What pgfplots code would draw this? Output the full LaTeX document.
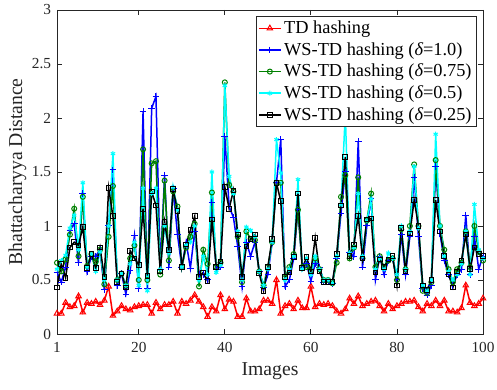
\documentclass[border=0pt]{standalone}
\usepackage{fontspec}
\setmainfont{Liberation Serif}
\usepackage{pgfplots}
\usepackage{pgfplotstable}
\pgfplotsset{compat=1.18}
\definecolor{mred}{rgb}{1,0,0}
\definecolor{mblue}{rgb}{0,0,1}
\definecolor{mgreen}{rgb}{0,0.5,0}
\definecolor{mcyan}{rgb}{0,1,1}
\definecolor{maxis}{rgb}{0.15,0.15,0.15}
\pgfplotstableread{
x td w10 w075 w05 w025
1 0.19 0.57 0.66 0.60 0.43
2 0.19 0.48 0.58 0.68 0.65
3 0.29 0.62 0.69 0.73 0.52
4 0.25 0.96 0.92 0.98 0.80
5 0.26 1.02 1.16 1.10 0.85
6 0.35 0.66 0.72 0.78 0.82
7 0.20 1.30 1.27 1.40 0.99
8 0.29 0.58 0.63 0.62 0.61
9 0.28 0.72 0.74 0.74 0.74
10 0.30 0.72 0.67 0.58 0.61
11 0.27 0.78 0.78 0.76 0.80
12 0.31 0.41 0.46 0.50 0.53
13 0.44 1.00 0.90 1.00 1.35
14 0.17 1.52 1.37 1.67 1.09
15 0.21 0.45 0.50 0.50 0.48
16 0.26 0.56 0.56 0.56 0.56
17 0.23 0.37 0.45 0.45 0.43
18 0.22 0.59 0.70 0.65 0.77
19 0.25 0.91 0.82 0.85 0.70
20 0.26 0.42 0.50 0.45 0.64
21 0.27 2.06 1.71 1.35 1.16
22 0.27 0.42 0.50 0.40 0.54
23 0.19 2.09 1.58 1.30 1.32
24 0.29 2.20 1.60 1.35 1.19
25 0.23 0.60 0.55 0.60 0.58
26 0.27 1.47 1.42 1.00 1.04
27 0.27 0.62 0.68 0.75 0.78
28 0.30 1.35 1.32 1.36 1.34
29 0.19 0.92 1.18 1.15 1.14
30 0.30 0.62 0.62 0.62 0.62
31 0.28 0.85 0.80 0.82 0.83
32 0.31 0.61 0.90 0.85 0.96
33 0.36 0.95 1.02 1.00 1.09
34 0.30 0.55 0.44 0.50 0.53
35 0.25 0.55 0.78 0.72 0.57
36 0.16 0.50 0.65 0.55 0.49
37 0.25 1.22 1.31 1.50 1.06
38 0.21 0.60 0.62 0.57 0.62
39 0.36 0.62 0.66 0.64 0.67
40 0.23 1.83 2.33 2.30 1.36
41 0.32 1.18 1.38 1.46 1.16
42 0.30 1.08 1.32 1.30 1.33
43 0.16 0.81 0.90 0.95 0.92
44 0.16 0.44 0.48 0.50 0.53
45 0.33 0.85 0.95 0.99 0.81
46 0.21 0.72 0.88 0.96 0.88
47 0.21 0.85 0.87 0.90 0.92
48 0.23 0.58 0.58 0.58 0.56
49 0.31 0.43 0.45 0.45 0.40
50 0.31 0.55 0.62 0.60 0.62
51 0.28 0.85 0.85 0.85 0.88
52 0.50 1.40 1.40 1.80 1.40
53 0.19 1.80 1.40 1.49 1.23
54 0.26 0.44 0.52 0.50 0.53
55 0.28 0.50 0.62 0.60 0.57
56 0.23 0.70 0.74 0.72 0.71
57 0.31 1.15 1.15 1.43 1.30
58 0.24 0.62 0.62 0.60 0.61
59 0.24 0.65 0.62 0.70 0.71
60 0.44 0.49 0.58 0.55 0.58
61 0.25 0.65 0.70 0.72 0.89
62 0.28 0.62 0.60 0.60 0.58
63 0.27 0.48 0.50 0.50 0.48
64 0.28 0.48 0.50 0.50 0.48
65 0.26 0.47 0.47 0.47 0.48
66 0.21 0.70 0.66 0.72 0.74
67 0.19 1.12 1.27 1.20 1.19
68 0.23 1.50 1.47 2.04 1.64
69 0.33 0.75 0.70 0.75 0.72
70 0.28 0.72 0.80 0.80 0.83
71 0.35 1.78 1.45 1.30 1.09
72 0.26 0.62 0.70 0.72 0.70
73 0.28 1.00 1.05 1.05 1.06
74 0.30 1.25 1.30 1.25 1.07
75 0.31 0.50 0.62 0.60 0.57
76 0.26 0.72 0.72 0.70 0.69
77 0.21 0.55 0.62 0.60 0.62
78 0.28 0.68 0.68 0.75 0.69
79 0.23 0.70 0.70 0.70 0.72
80 0.26 0.50 0.50 0.55 0.45
81 0.28 0.92 0.97 1.00 0.98
82 0.30 0.55 0.60 0.60 0.58
83 0.30 0.90 1.00 0.95 0.93
84 0.31 1.45 1.57 1.55 1.24
85 0.25 0.90 1.00 0.98 1.00
86 0.21 0.42 0.40 0.45 0.45
87 0.28 0.36 0.38 0.40 0.41
88 0.26 0.45 0.48 0.50 0.50
89 0.31 1.55 1.61 1.85 1.24
90 0.26 0.93 1.00 1.00 0.95
91 0.31 0.68 0.78 0.72 0.72
92 0.21 0.55 0.60 0.58 0.55
93 0.21 0.45 0.48 0.50 0.43
94 0.20 0.55 0.60 0.55 0.58
95 0.24 0.60 0.66 0.65 0.68
96 0.45 1.10 0.95 0.95 0.92
97 0.29 0.55 0.62 0.55 0.60
98 0.26 0.90 1.00 1.20 0.80
99 0.28 0.60 0.76 0.78 0.74
100 0.33 0.72 0.68 0.70 0.72
}\data
\begin{document}
\begin{tikzpicture}
\begin{axis}[
  scale only axis,
  width=255.6pt, height=194.4pt,
  xmin=1, xmax=100, ymin=0, ymax=3,
  xtick={1,20,40,60,80,100},
  ytick={0,0.5,1,1.5,2,2.5,3},
  tick align=inside,
  xtick pos=both, ytick pos=both,
  major tick length=3pt,
  axis line style={maxis, line width=0.5pt},
  tick style={maxis, line width=0.5pt},
  /pgf/number format/assume math mode=true,
  tick label style={font=\fontsize{9.2}{11}\selectfont, text=maxis},
  xticklabel style={yshift=-1.5pt},
  label style={font=\fontsize{11.8}{13}\selectfont, text=maxis},
  xlabel={Images},
  ylabel={Bhattacharyya Distance},
  xlabel style={yshift=1pt},
  ylabel style={yshift=-3.5pt},
  legend style={at={(1,1)}, xshift=-4pt, yshift=-3.6pt, anchor=north east, draw=maxis,
    font=\fontsize{11}{13}\selectfont, inner sep=1pt, row sep=0.6pt, line width=0.5pt,
    nodes={inner sep=1.6pt}},
  legend cell align=left,
  legend image code/.code={\draw[mark repeat=2,mark phase=2] plot coordinates {(0cm,0cm) (0.23cm,0cm) (0.46cm,0cm)};},
  every axis plot/.append style={line width=0.9pt, mark size=1.5pt},
]
\coordinate (sw) at (rel axis cs:0,0);
\coordinate (ne) at (rel axis cs:1,1);
\addplot[mred, mark=triangle, mark size=1.9pt, mark options={solid, mred, line width=0.6pt}] table[x=x, y=td] {\data};
\addlegendentry{TD hashing}
\addplot[mblue, mark=+, mark size=2pt, mark options={solid, mblue, line width=0.6pt}] table[x=x, y=w10] {\data};
\addlegendentry{WS-TD hashing ({\itshape δ}=1.0)}
\addplot[mgreen, mark=o, mark options={solid, mgreen, line width=0.6pt}] table[x=x, y=w075] {\data};
\addlegendentry{WS-TD hashing ({\itshape δ}=0.75)}
\addplot[mcyan, mark=asterisk, mark options={solid, mcyan, line width=0.6pt}] table[x=x, y=w05] {\data};
\addlegendentry{WS-TD hashing ({\itshape δ}=0.5)}
\addplot[black, mark=square, mark size=1.4pt, mark options={solid, black, line width=0.6pt}] table[x=x, y=w025] {\data};
\addlegendentry{WS-TD hashing ({\itshape δ}=0.25)}
\end{axis}
\pgfresetboundingbox
\path ([shift={(-34.2pt,-33.6pt)}]sw) rectangle ([shift={(8.4pt,6pt)}]ne);
\end{tikzpicture}
\end{document}
